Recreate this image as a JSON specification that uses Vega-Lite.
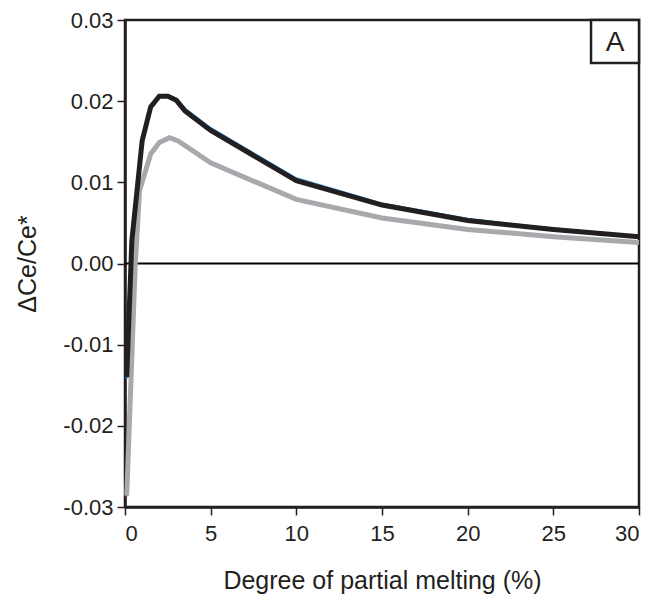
{
  "$schema": "https://vega.github.io/schema/vega-lite/v6.json",
  "autosize": {"type": "none"},
  "padding": {"left": 125, "top": 20, "right": 18, "bottom": 101},
  "width": 514,
  "height": 487,
  "background": "white",
  "config": {
    "view": {"stroke": "#231f20", "strokeWidth": 2.5},
    "font": "Liberation Sans",
    "axis": {
      "domainColor": "#231f20", "domainWidth": 2.5,
      "tickColor": "#231f20", "tickWidth": 1.5, "tickSize": 8,
      "labelFont": "Liberation Sans", "labelFontSize": 22, "labelColor": "#231f20",
      "titleFont": "Liberation Sans", "titleFontSize": 25, "titleFontWeight": "normal", "titleColor": "#231f20",
      "grid": false
    }
  },
  "datasets": {
    "lines": [
      {"series": "blue", "x": 0.1, "y": -0.0142},
      {"series": "blue", "x": 0.4, "y": 0.0029},
      {"series": "blue", "x": 1.0, "y": 0.0152},
      {"series": "blue", "x": 1.5, "y": 0.0194},
      {"series": "blue", "x": 2.0, "y": 0.0207},
      {"series": "blue", "x": 2.5, "y": 0.0208},
      {"series": "blue", "x": 3.0, "y": 0.0203},
      {"series": "blue", "x": 3.5, "y": 0.0191},
      {"series": "blue", "x": 5.0, "y": 0.0167},
      {"series": "blue", "x": 10.0, "y": 0.0105},
      {"series": "blue", "x": 15.0, "y": 0.0074},
      {"series": "blue", "x": 20.0, "y": 0.0055},
      {"series": "blue", "x": 25.0, "y": 0.0043},
      {"series": "blue", "x": 30.0, "y": 0.0034},
      {"series": "red", "x": 0.1, "y": -0.0287},
      {"series": "red", "x": 0.6, "y": -0.0002},
      {"series": "red", "x": 0.85, "y": 0.0089},
      {"series": "red", "x": 1.5, "y": 0.0135},
      {"series": "red", "x": 2.0, "y": 0.0150},
      {"series": "red", "x": 2.6, "y": 0.0156},
      {"series": "red", "x": 3.1, "y": 0.0152},
      {"series": "red", "x": 5.0, "y": 0.0124},
      {"series": "red", "x": 10.0, "y": 0.0078},
      {"series": "red", "x": 15.0, "y": 0.0055},
      {"series": "red", "x": 20.0, "y": 0.0041},
      {"series": "red", "x": 25.0, "y": 0.0032},
      {"series": "red", "x": 30.0, "y": 0.0025},
      {"series": "grey", "x": 0.1, "y": -0.0286},
      {"series": "grey", "x": 0.6, "y": 0.0},
      {"series": "grey", "x": 0.85, "y": 0.009},
      {"series": "grey", "x": 1.5, "y": 0.0135},
      {"series": "grey", "x": 2.0, "y": 0.0149},
      {"series": "grey", "x": 2.6, "y": 0.0155},
      {"series": "grey", "x": 3.1, "y": 0.0151},
      {"series": "grey", "x": 5.0, "y": 0.0124},
      {"series": "grey", "x": 10.0, "y": 0.0079},
      {"series": "grey", "x": 15.0, "y": 0.0056},
      {"series": "grey", "x": 20.0, "y": 0.0042},
      {"series": "grey", "x": 25.0, "y": 0.0033},
      {"series": "grey", "x": 30.0, "y": 0.0026},
      {"series": "black", "x": 0.1, "y": -0.014},
      {"series": "black", "x": 0.4, "y": 0.0028},
      {"series": "black", "x": 1.0, "y": 0.0151},
      {"series": "black", "x": 1.5, "y": 0.0193},
      {"series": "black", "x": 2.0, "y": 0.0206},
      {"series": "black", "x": 2.5, "y": 0.0206},
      {"series": "black", "x": 3.0, "y": 0.0201},
      {"series": "black", "x": 3.5, "y": 0.0188},
      {"series": "black", "x": 5.0, "y": 0.0164},
      {"series": "black", "x": 10.0, "y": 0.0102},
      {"series": "black", "x": 15.0, "y": 0.0072},
      {"series": "black", "x": 20.0, "y": 0.0053},
      {"series": "black", "x": 25.0, "y": 0.0042},
      {"series": "black", "x": 30.0, "y": 0.0033}
    ],
    "zero": [{"y": 0}],
    "box": [{"x": 27.2, "x2": 30, "y": 0.0247, "y2": 0.03, "label": "A", "xm": 28.6, "ym": 0.02735}]
  },
  "layer": [
    {
      "data": {"name": "zero"},
      "mark": {"type": "rule", "color": "#000000", "strokeWidth": 2},
      "encoding": {"y": {"field": "y", "type": "quantitative"}}
    },
    {
      "data": {"name": "lines"},
      "transform": [{"filter": "datum.series === 'blue' || datum.series === 'red'"}],
      "mark": {"type": "line", "strokeWidth": 2},
      "encoding": {
        "x": {"field": "x", "type": "quantitative", "scale": {"domain": [0, 30], "nice": false},
              "axis": {"values": [0, 5, 10, 15, 20, 25, 30], "title": "Degree of partial melting (%)", "titlePadding": 24, "labelPadding": 8}},
        "y": {"field": "y", "type": "quantitative", "scale": {"domain": [-0.03, 0.03], "nice": false, "zero": false},
              "axis": {"values": [-0.03, -0.02, -0.01, 0, 0.01, 0.02, 0.03], "labelExpr": "replace(format(datum.value, '.2f'), '\u2212', '-')", "title": "ΔCe/Ce*", "titlePadding": 22, "labelPadding": 4}},
        "detail": {"field": "series"},
        "color": {"field": "series", "type": "nominal", "scale": {"domain": ["blue", "red", "grey", "black"], "range": ["#2b8fd0", "#d9534f", "#a7a9ac", "#231f20"]}, "legend": null}
      }
    },
    {
      "data": {"name": "lines"},
      "transform": [{"filter": "datum.series === 'grey'"}],
      "mark": {"type": "line", "strokeWidth": 5, "color": "#a7a9ac", "strokeJoin": "miter"},
      "encoding": {
        "x": {"field": "x", "type": "quantitative"},
        "y": {"field": "y", "type": "quantitative"}
      }
    },
    {
      "data": {"name": "lines"},
      "transform": [{"filter": "datum.series === 'black'"}],
      "mark": {"type": "line", "strokeWidth": 5, "color": "#231f20", "strokeJoin": "miter"},
      "encoding": {
        "x": {"field": "x", "type": "quantitative"},
        "y": {"field": "y", "type": "quantitative"}
      }
    },
    {
      "data": {"name": "box"},
      "mark": {"type": "rect", "fill": "white", "stroke": "#231f20", "strokeWidth": 2.5},
      "encoding": {
        "x": {"field": "x", "type": "quantitative"},
        "x2": {"field": "x2"},
        "y": {"field": "y", "type": "quantitative"},
        "y2": {"field": "y2"}
      }
    },
    {
      "data": {"name": "box"},
      "mark": {"type": "text", "fontSize": 28, "color": "#231f20", "font": "Liberation Sans", "align": "center", "baseline": "middle", "dy": 1},
      "encoding": {
        "x": {"field": "xm", "type": "quantitative"},
        "y": {"field": "ym", "type": "quantitative"},
        "text": {"field": "label"}
      }
    }
  ]
}
